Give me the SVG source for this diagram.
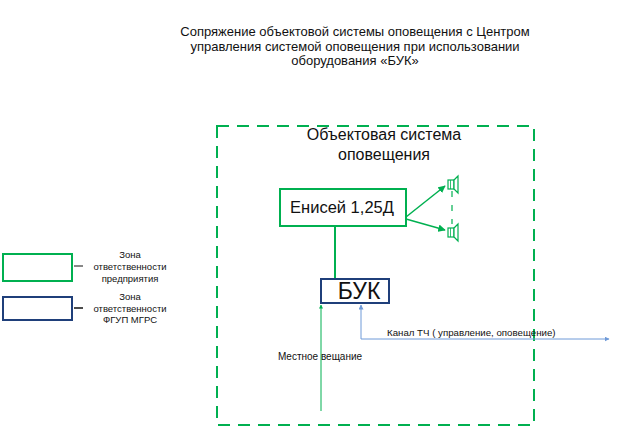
<svg xmlns="http://www.w3.org/2000/svg" width="617" height="429" viewBox="0 0 617 429">
<style>
text{font-family:"Liberation Sans",Arial,sans-serif;fill:#111}
.g{stroke:#00b050;fill:none}
.b{stroke:#1f3f7a;fill:#fff}
.lb{stroke:#6f9ad8;fill:none}
.legend{font-size:9.5px}
</style>
<defs>
<marker id="ag" viewBox="0 0 10 10" refX="9" refY="5" markerWidth="5" markerHeight="5" orient="auto"><path d="M0,0 L10,5 L0,10 z" fill="#00b050"/></marker>
<marker id="ab" viewBox="0 0 10 10" refX="9" refY="5" markerWidth="5" markerHeight="5" orient="auto"><path d="M0,0 L10,5 L0,10 z" fill="#6f9ad8"/></marker>
<marker id="agS" viewBox="0 0 10 10" refX="9" refY="5" markerWidth="4" markerHeight="4" orient="auto"><path d="M0,0 L10,5 L0,10 z" fill="#00b050"/></marker>
<g id="spk">
<rect x="0" y="-4" width="6" height="9" fill="#fff" stroke="#00b050" stroke-width="1.2"/>
<path d="M6,-4 L10,-8 L10,9 L6,5 z" fill="#fff" stroke="#00b050" stroke-width="1.2"/>
<line x1="2.5" y1="-4" x2="2.5" y2="5" stroke="#00b050" stroke-width="0.8"/>
</g>
</defs>
<g id="title" font-size="13">
<text x="355" y="36" text-anchor="middle">Сопряжение объектовой системы оповещения с Центром</text>
<text x="355" y="51" text-anchor="middle">управления системой оповещения при использовании</text>
<text x="355" y="65" text-anchor="middle">оборудования «БУК»</text>
</g>
<g id="object-system">
<rect x="217" y="126" width="317" height="299" class="g" stroke-width="2" stroke-dasharray="12,8"/>
<text x="384" y="140" text-anchor="middle" font-size="16">Объектовая система</text>
<text x="384" y="160" text-anchor="middle" font-size="16">оповещения</text>
</g>
<g id="connectors">
<line x1="335" y1="226" x2="335" y2="279" class="g" stroke-width="2"/>
<line x1="406" y1="217" x2="445" y2="186" class="g" stroke-width="1.5" marker-end="url(#ag)"/>
<line x1="406" y1="219" x2="445" y2="230" class="g" stroke-width="1.5" marker-end="url(#ag)"/>
<line x1="321" y1="411" x2="321" y2="305" class="g" stroke-width="1" marker-end="url(#agS)"/>
<polyline points="361,339 361,305" class="lb" stroke-width="1" marker-end="url(#ab)"/>
<polyline points="361,339 609,339" class="lb" stroke-width="1" marker-end="url(#ab)"/>
<line x1="452" y1="191" x2="452" y2="224" class="g" stroke-width="1.2" stroke-dasharray="6,8"/>
</g>
<g id="enisei">
<rect x="280" y="189" width="126" height="37" class="g" stroke-width="2" style="fill:#fff"/>
<text x="342" y="213" text-anchor="middle" font-size="16.5">Енисей 1,25Д</text>
</g>
<g id="speaker1"><use href="#spk" x="448" y="184"/></g>
<g id="speaker2"><use href="#spk" x="448" y="232"/></g>
<g id="buk">
<rect x="321" y="279" width="68" height="24" class="b" stroke-width="2"/>
<text x="359" y="299" text-anchor="middle" font-size="23">БУК</text>
</g>
<text x="320" y="360" text-anchor="middle" font-size="10">Местное  вещание</text>
<text x="387" y="336" font-size="9.7">Канал ТЧ ( управление, оповещение)</text>
<g id="legend-enterprise">
<rect x="3" y="254" width="69" height="27" fill="#fff" stroke="#00b050" stroke-width="2"/>
<line x1="74" y1="266" x2="83" y2="266" stroke="#111" stroke-width="1"/>
<text class="legend" x="130" y="258" text-anchor="middle">Зона</text>
<text class="legend" x="130" y="270" text-anchor="middle">ответственности</text>
<text class="legend" x="130" y="282" text-anchor="middle">предприятия</text>
</g>
<g id="legend-mgrs">
<rect x="3" y="297" width="69" height="23" fill="#fff" stroke="#1f3f7a" stroke-width="2"/>
<line x1="74" y1="308" x2="83" y2="308" stroke="#111" stroke-width="1.5"/>
<text class="legend" x="130" y="300" text-anchor="middle">Зона</text>
<text class="legend" x="130" y="312" text-anchor="middle">ответственности</text>
<text class="legend" x="130" y="323" text-anchor="middle">ФГУП МГРС</text>
</g>
</svg>
